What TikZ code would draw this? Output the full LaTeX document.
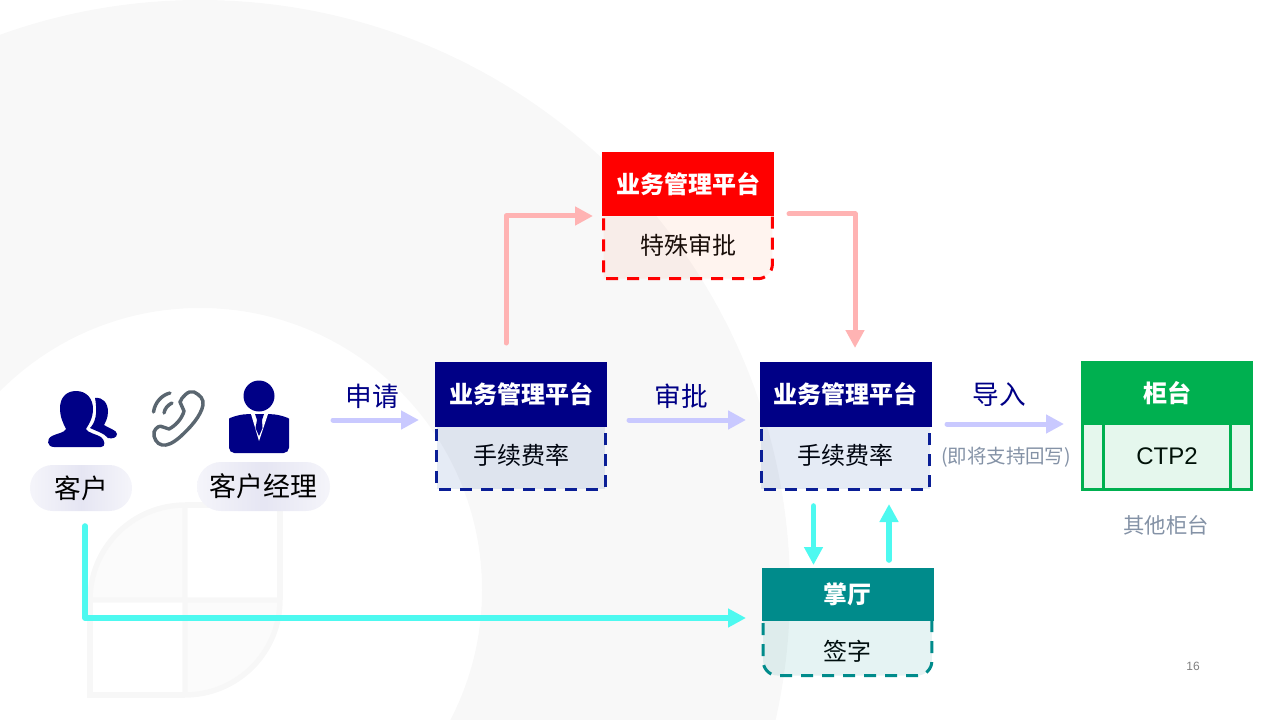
\documentclass[tikz,border=0pt]{standalone}
\usepackage{fontspec}
\setmainfont{Noto Sans CJK SC}
\newfontfamily\latinfont{Liberation Sans}
\usetikzlibrary{arrows.meta,positioning}

\definecolor{ringgray}{HTML}{F8F8F8}
\definecolor{markgray}{HTML}{F7F7F7}
\definecolor{markfill}{HTML}{FBFBFB}
\definecolor{boxnavy}{HTML}{000086}
\definecolor{rimnavy}{HTML}{0A1E96}
\definecolor{tintnavy}{HTML}{00379B}
\definecolor{boxred}{HTML}{FF0000}
\definecolor{boxteal}{HTML}{008B8B}
\definecolor{boxgreen}{HTML}{00B050}
\definecolor{flowblue}{HTML}{C9C9FF}
\definecolor{flowred}{HTML}{FFB3B3}
\definecolor{flowcyan}{HTML}{4DF9F0}
\definecolor{notegray}{HTML}{8492A6}
\definecolor{phonegray}{HTML}{5A6670}

\tikzset{
  head/.style={minimum width=129pt, minimum height=48.5pt, inner sep=0pt, outer sep=0pt,
    text=white, font=\fontsize{18pt}{20pt}\selectfont\bfseries},
  body/.style={minimum width=129pt, minimum height=48pt, inner sep=0pt, outer sep=0pt,
    text height=15pt, text depth=6pt, font=\fontsize{18pt}{20pt}\selectfont},
  rim/.style={line width=2.25pt, dash pattern=on 9pt off 6.75pt, dash phase=14.25pt, fill opacity=.1},
  flow/.style={line width=3.75pt, line cap=round, line join=round,
    -{Triangle[length=13.5pt,width=13.5pt]}},
  pill/.style={inner sep=0pt, left color=boxnavy!4, right color=boxnavy!4, middle color=boxnavy!10,
    font=\fontsize{20pt}{22pt}\selectfont},
  flowlabel/.style={text=boxnavy, font=\fontsize{20pt}{22pt}\selectfont},
  note/.style={text=notegray, font=\fontsize{14.6pt}{17pt}\selectfont}
}

\begin{document}
\begin{tikzpicture}[x=.75pt,y=-.75pt]
    \useasboundingbox (0,0) rectangle (1280,720);

    % Background ring
    \begin{scope}
        \clip (0,0) rectangle (1280,720);
        \fill[ringgray, even odd rule] (200,590) circle (590) (200,590) circle (282);
    \end{scope}

    % Background mark
    \filldraw[markgray, fill=markfill, line width=4pt] (90,600) .. controls (90,547.5) and (132.5,505) .. (185,505) -- (185,600) -- cycle;
    \filldraw[markgray, fill=markfill, line width=4pt] (185,600) -- (280,600) .. controls (280,652.5) and (237.5,695) .. (185,695) -- cycle;
    \draw[markgray, line width=4pt] (185,505) -- (280,505) -- (280,600);
    \draw[markgray, line width=4pt] (90,600) -- (90,695) -- (185,695);

    % People
    \fill[boxnavy] (76,391) .. controls (87,391) and (93,399) .. (93,409)
        .. controls (93,418) and (89,424) .. (86,429) .. controls (88,433) and (96,434) .. (101,437)
        .. controls (105,440) and (106,447) .. (101,447) -- (54,447)
        .. controls (47,447) and (46,439) .. (52,436) .. controls (58,433) and (64,433) .. (66,429)
        .. controls (63,423) and (60,417) .. (60,408) .. controls (60,398) and (66,391) .. (76,391) -- cycle;
    \fill[boxnavy] (95,398) .. controls (103,397) and (108,403) .. (108,412)
        .. controls (108,418) and (105,423) .. (104,425) .. controls (108,428) and (117,430) .. (117,434)
        .. controls (117,438) and (112,439) .. (108,438) .. controls (104,433) and (96,431) .. (90,428)
        .. controls (95,423) and (98,414) .. (95,398) -- cycle;
    \fill[boxnavy] (259,396) circle (15.5);
    \fill[boxnavy, rounded corners=4pt] (229,453) -- (229,424) .. controls (229,418) and (238,415) .. (248,414)
        -- (270,414) .. controls (280,415) and (289,418) .. (289,424) -- (289,453) -- cycle;
    \fill[white] (251,414) -- (259,441) -- (268,414) -- cycle;
    \fill[boxnavy] (255,414) -- (264,414) -- (262,420) -- (262.5,428) -- (259,436) -- (255.5,428) -- (257,420) -- cycle;

    % Phone
    \draw[phonegray, line width=2.6pt, line join=round] (185,395) .. controls (188,392) and (191,391) .. (194,392)
        .. controls (200,395) and (204,399) .. (203,405) .. controls (201,416) and (190,428) .. (180,437)
        .. controls (173,443) and (167,446) .. (162,445) .. controls (157,444) and (153,438) .. (154,432)
        .. controls (156,427) and (160,425) .. (163,427) -- (169,429) .. controls (175,426) and (182,419) .. (184,411)
        -- (180,402) .. controls (181,399) and (183,397) .. (185,395) -- cycle;
    \draw[phonegray, line width=2.6pt, line cap=round] (153.5,412) .. controls (155,402) and (162,395) .. (170,393);
    \draw[phonegray, line width=2.6pt, line cap=round] (164,413) .. controls (165,408) and (168,405) .. (172,403);

    % Pills
    \node[pill, minimum width=76.5pt, minimum height=34.5pt, rounded corners=17pt] (client) at (81,488) {\raisebox{-1.2pt}{客户}};
    \node[pill, minimum width=99.75pt, minimum height=36.75pt, rounded corners=18pt] (manager) at (263.5,486.5) {\raisebox{-2.6pt}{\fontsize{20.2pt}{22pt}\selectfont 客户经理}};

    % Fee platform
    \node[head, fill=boxnavy] (fee) at (521,394.5) {业务管理平台};
    \node[body, below=0pt of fee] (feerate) {手续费率};
    \filldraw[rim, draw=rimnavy, fill=tintnavy] ([xshift=1.2pt]feerate.north west) -- ([shift={(1.2pt,1.2pt)}]feerate.south west) -- ([shift={(-1.2pt,1.2pt)}]feerate.south east) -- ([xshift=-1.2pt]feerate.north east);

    % Special approval platform
    \node[head, fill=boxred] (special) at (688,184) {业务管理平台};
    \node[body, below=0pt of special] (specialnote) {特殊审批};
    \filldraw[rim, draw=boxred, fill=boxred!40!orange!60] ([xshift=1.2pt]specialnote.north west) -- ([shift={(1.2pt,1.2pt)}]specialnote.south west) [rounded corners=11pt] -- ([shift={(-1.2pt,1.2pt)}]specialnote.south east) [sharp corners] -- ([xshift=-1.2pt]specialnote.north east);

    % Approved platform
    \node[head, fill=boxnavy] (appr) at (845.5,394.5) {业务管理平台};
    \node[body, below=0pt of appr] (apprrate) {手续费率};
    \filldraw[rim, draw=rimnavy, fill=tintnavy] ([xshift=1.2pt]apprrate.north west) -- ([shift={(1.2pt,1.2pt)}]apprrate.south west) -- ([shift={(-1.2pt,1.2pt)}]apprrate.south east) -- ([xshift=-1.2pt]apprrate.north east);

    % Hall
    \node[head, fill=boxteal, minimum height=40pt] (hall) at (847.5,594.5) {掌厅};
    \node[body, below=0pt of hall, minimum height=42pt, text height=17pt, text depth=0pt] (sign) {签字};
    \filldraw[rim, draw=boxteal, fill=boxteal] ([xshift=1.2pt]sign.north west) [rounded corners=11pt] -- ([shift={(1.2pt,1.2pt)}]sign.south west) -- ([shift={(-1.2pt,1.2pt)}]sign.south east) [sharp corners] -- ([xshift=-1.2pt]sign.north east);

    % Counter
    \node[head, fill=boxgreen] (counter) at (1167,393) {柜台};
    \node[body, below=0pt of counter, minimum height=49.5pt] (ctp) {\latinfont CTP2};
    \filldraw[boxgreen, fill=boxgreen, fill opacity=.1, line width=2.5pt] ([xshift=1.25pt]ctp.north west) -- ([shift={(1.25pt,1.25pt)}]ctp.south west) -- ([shift={(-1.25pt,1.25pt)}]ctp.south east) -- ([xshift=-1.25pt]ctp.north east);
    \coordinate (ctpa) at (1103,425);
    \coordinate (ctpb) at (1103,490);
    \coordinate (ctpc) at (1230,425);
    \coordinate (ctpd) at (1230,490);
    \draw[boxgreen, line width=2.25pt] (ctpa) -- (ctpb);
    \draw[boxgreen, line width=2.25pt] (ctpc) -- (ctpd);

    % Flow labels
    \node[flowlabel] (apply) at (372,396) {申请};
    \node[flowlabel] (check) at (681,396) {审批};
    \node[flowlabel] (import) at (999,395) {导入};
    \node[note] (soon) at (1006,457) {(即将支持回写)};
    \node[note, font=\fontsize{16pt}{18pt}\selectfont] (others) at (1166,525) {其他柜台};
    \node[text=gray, font=\latinfont\fontsize{9pt}{11pt}\selectfont] (pageno) at (1193,666) {16};

    % Arrow ends
    \coordinate (a0) at (333,420);
    \coordinate (a1) at (419,420);
    \coordinate (b0) at (629,420);
    \coordinate (b1) at (746,420);
    \coordinate (c0) at (947,424);
    \coordinate (c1) at (1064,424);
    \coordinate (d0) at (506,343);
    \coordinate (d1) at (506,216);
    \coordinate (d2) at (593,216);
    \coordinate (e0) at (789,214);
    \coordinate (e1) at (855,214);
    \coordinate (e2) at (855,348);
    \coordinate (f0) at (85,526);
    \coordinate (f1) at (85,618);
    \coordinate (f2) at (746,618);
    \coordinate (g0) at (813.5,506);
    \coordinate (g1) at (813.5,565);
    \coordinate (h0) at (889,560);
    \coordinate (h1) at (889,504);

    \draw[flow, flowblue] (a0) -- (a1);
    \draw[flow, flowblue] (b0) -- (b1);
    \draw[flow, flowblue] (c0) -- (c1);
    \draw[flow, flowred] (d0) -- (d1) -- (d2);
    \draw[flow, flowred] (e0) -- (e1) -- (e2);
    \draw[flow, flowcyan, line width=4.2pt] (f0) -- (f1) -- (f2);
    \draw[flow, flowcyan, line width=4.2pt] (g0) -- (g1);
    \draw[flow, flowcyan, line width=4.2pt] (h0) -- (h1);

\end{tikzpicture}
\end{document}
